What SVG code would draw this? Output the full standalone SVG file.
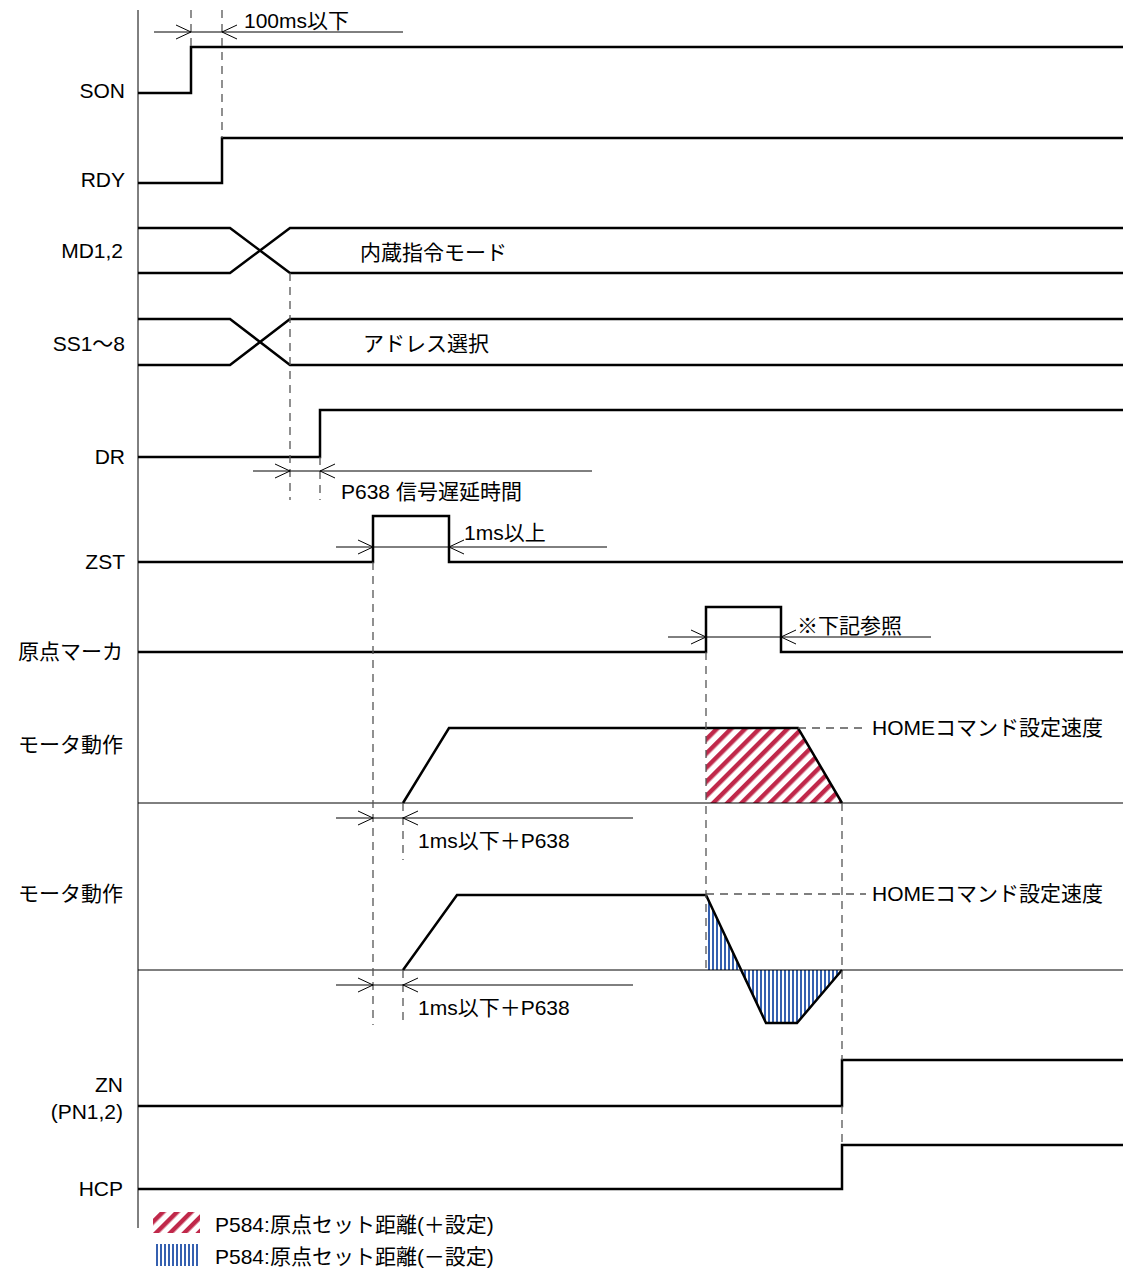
<svg xmlns="http://www.w3.org/2000/svg" xmlns:xlink="http://www.w3.org/1999/xlink" width="1123" height="1269" viewBox="0 0 1123 1269">
<style>
text{font-family:"Liberation Sans","Noto Sans CJK JP",sans-serif;font-size:21px;fill:#000}
.lbl{text-anchor:end}
.sig{fill:none;stroke:#000;stroke-width:2.5;stroke-linejoin:miter}
.thin{fill:none;stroke:#000;stroke-width:1}
.dash{fill:none;stroke:#555;stroke-width:1.3;stroke-dasharray:8,6}
.arr{fill:none;stroke:#000;stroke-width:1}
</style>
<defs>
<pattern id="red" width="10" height="10" patternUnits="userSpaceOnUse" patternTransform="rotate(45)">
<rect x="0" y="0" width="4.5" height="10" fill="#c0284a"/>
</pattern>
<pattern id="blue" width="4" height="10" patternUnits="userSpaceOnUse">
<rect x="0" y="0" width="2" height="10" fill="#3560b0"/>
</pattern>
<path id="arR" d="M-15,-7 L0,0 L-15,7"/>
<path id="arL" d="M15,-7 L0,0 L15,7"/>
</defs>
<rect width="1123" height="1269" fill="#fff"/>

<g id="axis"><line class="thin" x1="138" y1="10" x2="138" y2="1228"/></g>

<g id="son"><text class="lbl" x="125" y="98">SON</text><path class="sig" d="M138,93 H191 V47 H1123"/></g>
<g id="rdy"><text class="lbl" x="125" y="187">RDY</text><path class="sig" d="M138,183 H222 V138 H1123"/></g>
<g id="md"><text class="lbl" x="123" y="258">MD1,2</text>
<path class="sig" d="M138,228 H230 L290,273 H1123 M138,273 H230 L290,228 H1123"/>
<text x="360" y="260">内蔵指令モード</text></g>
<g id="ss"><text class="lbl" x="125" y="351">SS1～8</text>
<path class="sig" d="M138,319 H230 L290,365 H1123 M138,365 H230 L290,319 H1123"/>
<text x="363" y="351">アドレス選択</text></g>
<g id="dr"><text class="lbl" x="125" y="464">DR</text><path class="sig" d="M138,457 H320 V410 H1123"/></g>
<g id="zst"><text class="lbl" x="125" y="569">ZST</text><path class="sig" d="M138,562 H373 V516 H449 V562 H1123"/></g>
<g id="marker"><text class="lbl" x="123" y="659">原点マーカ</text><path class="sig" d="M138,652 H706 V607 H781 V652 H1123"/></g>

<g id="motor1"><text class="lbl" x="123" y="752">モータ動作</text>
<polygon points="706,728 798,728 842,803 706,803" fill="url(#red)"/>
<line class="thin" x1="138" y1="803" x2="1123" y2="803"/>
<path class="sig" d="M403,803 L449,728 H798 L842,803"/>
<text x="872" y="735">HOMEコマンド設定速度</text></g>

<g id="motor2"><text class="lbl" x="123" y="901">モータ動作</text>
<polygon points="706,895 706,970 740,970" fill="url(#blue)"/>
<polygon points="740,970 766,1023 797,1023 842,970" fill="url(#blue)"/>
<line class="thin" x1="138" y1="970" x2="1123" y2="970"/>
<path class="sig" d="M403,970 L457,895 H706 L766,1023 H797 L842,970"/>
<text x="872" y="901">HOMEコマンド設定速度</text></g>

<g id="zn"><text class="lbl" x="123" y="1092">ZN</text><text class="lbl" x="123" y="1119">(PN1,2)</text>
<path class="sig" d="M138,1106 H842 V1060 H1123"/></g>
<g id="hcp"><text class="lbl" x="123" y="1196">HCP</text><path class="sig" d="M138,1189 H842 V1145 H1123"/></g>

<g id="connectors">
<path class="dash" d="M191,10 V47 M222,10 V138 M290,273 V500 M320,457 V500 M373,562 V1025 M403,803 V860 M403,970 V1025 M706,652 V970 M842,803 V1060 M842,1106 V1145 M798,728 H866 M706,894 H866"/>
<line class="thin" x1="154" y1="32" x2="403" y2="32"/>
<use href="#arR" class="arr" x="191" y="32"/><use href="#arL" class="arr" x="222" y="32"/>
<text x="244" y="28">100ms以下</text>
<line class="thin" x1="253" y1="471" x2="592" y2="471"/>
<use href="#arR" class="arr" x="290" y="471"/><use href="#arL" class="arr" x="320" y="471"/>
<text x="341" y="499">P638 信号遅延時間</text>
<line class="thin" x1="336" y1="547" x2="607" y2="547"/>
<use href="#arR" class="arr" x="373" y="547"/><use href="#arL" class="arr" x="449" y="547"/>
<text x="464" y="540">1ms以上</text>
<line class="thin" x1="668" y1="637" x2="931" y2="637"/>
<use href="#arR" class="arr" x="706" y="637"/><use href="#arL" class="arr" x="781" y="637"/>
<text x="797" y="633">※下記参照</text>
<line class="thin" x1="336" y1="818" x2="633" y2="818"/>
<use href="#arR" class="arr" x="373" y="818"/><use href="#arL" class="arr" x="403" y="818"/>
<text x="418" y="848">1ms以下＋P638</text>
<line class="thin" x1="336" y1="985" x2="633" y2="985"/>
<use href="#arR" class="arr" x="373" y="985"/><use href="#arL" class="arr" x="403" y="985"/>
<text x="418" y="1015">1ms以下＋P638</text>
</g>

<g id="legend">
<rect x="153" y="1212" width="47" height="21" fill="url(#red)"/>
<text x="215" y="1232">P584:原点セット距離(＋設定)</text>
<rect x="154" y="1244" width="45" height="22" fill="url(#blue)"/>
<text x="215" y="1264">P584:原点セット距離(－設定)</text>
</g>
</svg>
